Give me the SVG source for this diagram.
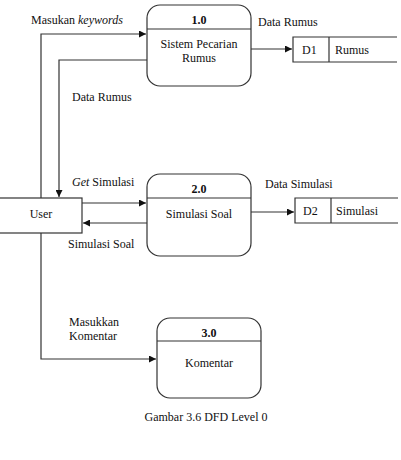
<svg xmlns="http://www.w3.org/2000/svg" width="401" height="460" viewBox="0 0 401 460">
<style>
text{font-family:'Liberation Serif','DejaVu Serif',serif;font-size:12px;fill:#111}
.b{font-weight:bold}
.m{text-anchor:middle}
.s{fill:#fff;stroke:#333;stroke-width:1.2}
.l{fill:none;stroke:#333;stroke-width:1.2}
</style>
<defs>
<marker id="a" viewBox="0 0 10 10" refX="10" refY="5" markerWidth="7" markerHeight="7" orient="auto" markerUnits="userSpaceOnUse"><path d="M0,0L10,5L0,10z" fill="#111"/></marker>
</defs>
<rect width="401" height="460" fill="#fff"/>
<g id="connectors">
<polyline class="l" points="41,233 41,359 156,359" marker-end="url(#a)"/>
<polyline class="l" points="41,198 41,34 146,34" marker-end="url(#a)"/>
<polyline class="l" points="147,60 59,60 59,197" marker-end="url(#a)"/>
<line class="l" x1="82" y1="203" x2="146" y2="203" marker-end="url(#a)"/>
<line class="l" x1="147" y1="223" x2="83" y2="223" marker-end="url(#a)"/>
<line class="l" x1="251" y1="49" x2="292" y2="49" marker-end="url(#a)"/>
<line class="l" x1="251" y1="212" x2="294" y2="212" marker-end="url(#a)"/>
<text x="31" y="24">Masukan <tspan font-style="italic">keywords</tspan></text>
<text x="72" y="101">Data Rumus</text>
<text x="72" y="186"><tspan font-style="italic">Get</tspan> Simulasi</text>
<text x="68" y="248">Simulasi Soal</text>
<text x="258" y="26">Data Rumus</text>
<text x="265" y="188">Data Simulasi</text>
<text x="69" y="326">Masukkan</text>
<text x="69" y="340">Komentar</text>
</g>
<g id="user">
<rect class="s" x="-1" y="198" width="83" height="35"/>
<text class="m" x="41" y="218">User</text>
</g>
<g id="p1">
<rect class="s" x="147" y="5" width="104" height="81" rx="13"/>
<line class="l" x1="147" y1="29" x2="251" y2="29"/>
<text class="m b" x="199" y="24">1.0</text>
<text class="m" x="199" y="48">Sistem Pecarian</text>
<text class="m" x="199" y="62">Rumus</text>
</g>
<g id="p2">
<rect class="s" x="147" y="174" width="104" height="82" rx="13"/>
<line class="l" x1="147" y1="198" x2="251" y2="198"/>
<text class="m b" x="199" y="193">2.0</text>
<text class="m" x="199" y="218">Simulasi Soal</text>
</g>
<g id="p3">
<rect class="s" x="157" y="318" width="104" height="80" rx="13"/>
<line class="l" x1="157" y1="341" x2="261" y2="341"/>
<text class="m b" x="209" y="337">3.0</text>
<text class="m" x="209" y="367">Komentar</text>
</g>
<g id="d1">
<polyline class="l" points="397,37 293,37 293,62 397,62"/>
<line class="l" x1="329" y1="37" x2="329" y2="62"/>
<text x="302" y="54">D1</text>
<text x="335" y="54">Rumus</text>
</g>
<g id="d2">
<polyline class="l" points="398,198 295,198 295,223 398,223"/>
<line class="l" x1="331" y1="198" x2="331" y2="223"/>
<text x="303" y="215">D2</text>
<text x="336" y="215">Simulasi</text>
</g>
<text class="m" x="206" y="421">Gambar 3.6 DFD Level 0</text>
</svg>
